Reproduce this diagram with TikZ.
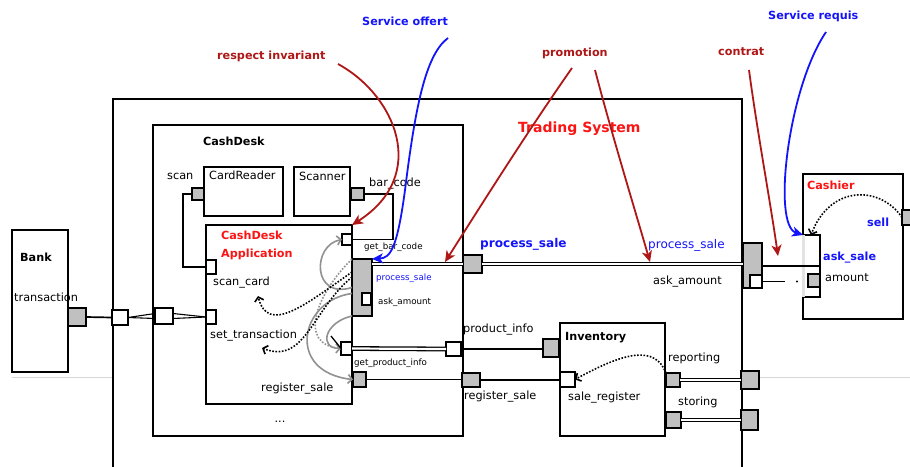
\documentclass[tikz,border=0pt]{standalone}
\usepackage{fontspec}
\setmainfont{DejaVu Sans}
\usetikzlibrary{arrows.meta,calc}
\definecolor{annred}{RGB}{175,22,22}
\definecolor{annblue}{RGB}{20,20,250}
\definecolor{titred}{RGB}{250,20,20}
\definecolor{portgray}{RGB}{192,192,192}
\definecolor{curvegray}{RGB}{145,145,145}
\definecolor{sepgray}{RGB}{215,215,215}
\begin{document}
\begin{tikzpicture}[x=1pt,y=-1pt,
  bx/.style={draw, line width=1.9pt, fill=white, inner sep=0pt, outer sep=0pt, anchor=north west},
  gp/.style={bx, fill=portgray},
  wp/.style={bx, fill=white},
  wire/.style={line width=1.7pt},
  thinwire/.style={line width=1.1pt},
  dbl/.style={line width=1.3pt, double=white, double distance=2.2pt},
  lbl/.style={inner sep=0pt, anchor=west, text height=0.7em, text depth=0.18em, font=\fontsize{11.3}{13}\selectfont},
  slbl/.style={lbl, font=\fontsize{8.7}{10}\selectfont},
  blbl/.style={lbl, font=\bfseries\fontsize{11.2}{13}\selectfont},
  tlbl/.style={lbl, font=\bfseries\fontsize{14}{16}\selectfont},
  gcurve/.style={curvegray, line width=1.6pt, -{Straight Barb[length=4pt,width=9pt]}},
  gdot/.style={curvegray, line width=1.6pt, dash pattern=on 1.6pt off 1.6pt},
  bdot/.style={black, line width=1.6pt, dash pattern=on 1.6pt off 1.6pt, -{Straight Barb[length=4pt,width=9pt]}},
  redarr/.style={annred, line width=1.8pt, -{Stealth[length=11pt,width=10pt,inset=3pt]}},
  bluearr/.style={annblue, line width=1.8pt, -{Stealth[length=11pt,width=10pt,inset=3pt]}}
]
\useasboundingbox (0,0) rectangle (910,466);
\clip (0,0) rectangle (910,466);
\fill[white] (0,0) rectangle (910,466);

% separator line in the background
\coordinate (sepA) at (12,377);
\coordinate (sepB) at (910,377);
\draw[sepgray, line width=0.8pt] (sepA) -- (sepB);

% boxes
\node[bx, minimum width=629, minimum height=420] (ts) at (113,99) {};
\node[bx, minimum width=56, minimum height=142] (bank) at (12,230) {};
\node[bx, minimum width=310, minimum height=311] (cd) at (153,125) {};
\node[bx, minimum width=79, minimum height=49] (cr) at (204,167) {};
\node[bx, minimum width=56, minimum height=49] (sc) at (294,167) {};
\node[bx, minimum width=146, minimum height=179] (cda) at (206,225) {};
\node[bx, minimum width=105, minimum height=113] (inv) at (560,323) {};
\node[bx, minimum width=100, minimum height=145] (cash) at (803,174) {};

% ask_sale port of Cashier (left side light)
\node[inner sep=0pt, outer sep=0pt, anchor=north west, fill=white, minimum width=17, minimum height=62] (askSaleP) at (803,235) {};
\draw[line width=1.9pt] (askSaleP.north west) -- (askSaleP.north east) -- (askSaleP.south east) -- (askSaleP.south west);
\draw[gray!22, line width=3pt] (askSaleP.north west) -- (askSaleP.south west);

% ports on the Trading System / Cashier side
\node[gp, minimum width=19, minimum height=45] (tsCashP) at (743,243) {};
\node[wp, minimum width=12, minimum height=13] (tsAmtP) at (750,275) {};
\node[gp, minimum width=12, minimum height=13] (amountP) at (808,274) {};
\draw[wire] (tsCashP.east |- askSaleP.center) -- (askSaleP.east);
\coordinate (amEnd) at (785,281.5);
\coordinate (amDot) at (797,281.5);
\draw[wire] (tsAmtP.east) -- (amEnd);
\fill (amDot) circle (1.1pt);

% other ports
\node[gp, minimum width=12, minimum height=12] (scanP) at (192,188) {};
\node[gp, minimum width=13, minimum height=12] (barP) at (351,188) {};
\node[wp, minimum width=10, minimum height=14] (scanCardP) at (206,260) {};
\node[wp, minimum width=10, minimum height=14] (setTrP) at (206,310) {};
\node[wp, minimum width=10, minimum height=11] (getBarP) at (342,234) {};
\node[wp, minimum width=11, minimum height=13] (getProdP) at (341,342) {};
\node[gp, minimum width=13, minimum height=15] (regSaleP) at (353,372) {};
\node[gp, minimum width=19, minimum height=18] (cdProcP) at (463,255) {};
\node[wp, minimum width=15, minimum height=14] (cdProdP) at (446,342) {};
\node[gp, minimum width=18, minimum height=14] (cdRegP) at (462,373) {};
\node[wp, minimum width=18, minimum height=16] (cdTrP) at (155,308) {};
\node[gp, minimum width=18, minimum height=18] (tsRepP) at (741,371) {};
\node[gp, minimum width=17, minimum height=20] (tsStoP) at (741,410) {};
\node[wp, minimum width=16, minimum height=15] (tsTrP) at (112,310) {};
\node[gp, minimum width=18, minimum height=18] (bankP) at (68,308) {};
\node[gp, minimum width=16, minimum height=18] (invProdP) at (543,339) {};
\node[wp, minimum width=15, minimum height=15] (saleRegP) at (560,372) {};
\node[gp, minimum width=14, minimum height=14] (repP) at (666,373) {};
\node[gp, minimum width=15, minimum height=16] (stoP) at (666,412) {};
\node[gp, minimum width=12, minimum height=15] (sellP) at (902,210) {};

\draw[wire] (bankP.east) -- (tsTrP.west);
\draw[thinwire] (tsTrP.east) -- ([yshift=2.5pt]cdTrP.west);
\draw[thinwire] (tsTrP.east) -- ([yshift=-2.5pt]cdTrP.west);
\draw[thinwire] ([yshift=2.5pt]cdTrP.east) -- (setTrP.west);
\draw[thinwire] ([yshift=-2.5pt]cdTrP.east) -- (setTrP.west);
\draw[wire] (scanP.west) -- ++(-9,0) |- (scanCardP.west);
\coordinate (bb) at (393,239.5);
\draw[wire] (barP.east) -| (bb) -- (getBarP.east);

\node[gp, minimum width=20, minimum height=57] (procP) at (352,259) {};
\node[wp, minimum width=9, minimum height=12] (askAmtP) at (362,293) {};

\draw[dbl] (procP.east |- cdProcP.west) -- (cdProcP.west);
\draw[dbl] (cdProcP.east) -- (cdProcP.east -| tsCashP.west);
\draw[dbl] (getProdP.east) -- (cdProdP.west);
\draw[wire] (cdProdP.east) -- (cdProdP.east -| invProdP.west);
\draw[wire] (regSaleP.east) -- (regSaleP.east -| cdRegP.west);
\draw[wire] (cdRegP.east) -- (cdRegP.east -| saleRegP.west);
\draw[dbl] (repP.east) -- (repP.east -| tsRepP.west);
\draw[dbl] (stoP.east) -- (stoP.east -| tsStoP.west);

% internal calls in CashDesk Application
\draw[gdot] (procP.north west) .. controls (318,292) and (295,345) .. (getProdP.west);
\draw[gcurve] (procP.west) .. controls (312,300) and (312,245) .. (getBarP.west);
\draw[gcurve] (procP.south west) .. controls (325,322) and (318,348) .. (getProdP.west);
\draw[gcurve] ([yshift=-6pt]procP.west) .. controls (300,300) and (285,372) .. (regSaleP.west);
\coordinate (scTip) at (258,296);
\coordinate (stTip) at (262,348);
\draw[bdot] ([yshift=-13pt]procP.north west) .. controls (305,305) and (268,335) .. (scTip);
\draw[bdot] ([yshift=-18pt]procP.north west) .. controls (312,310) and (305,365) .. (stTip);
\coordinate (tick) at (331,336);
\draw[line width=1.3pt] (tick) -- (getProdP.west);

% dotted delegations
\draw[bdot] (sellP.west) .. controls (880,185) and (830,185) .. ([xshift=8pt]askSaleP.north west);
\draw[bdot] (repP.north west) .. controls (655,345) and (625,352) .. (saleRegP.east);

% labels
\node[blbl, annred] (tRI) at (217,57) {respect invariant};
\node[blbl, annblue] (tSO) at (362,23) {Service offert};
\node[blbl, annred] (tPR) at (542,54) {promotion};
\node[blbl, annred] (tCO) at (718,53) {contrat};
\node[blbl, annblue] (tSR) at (768,17) {Service requis};
\node[tlbl, titred] (tTS) at (518,130) {Trading System};
\node[blbl] (tCD) at (203,143) {CashDesk};
\node[lbl] (tCR) at (209,177) {CardReader};
\node[lbl] (tSC) at (299,178) {Scanner};
\node[lbl] (tscan) at (167,177) {scan};
\node[lbl] (tbar) at (369,184) {bar\_code};
\node[blbl, titred] (tCDA1) at (221,237) {CashDesk};
\node[blbl, titred] (tCDA2) at (221,255) {Application};
\node[slbl] (tgbc) at (364,247) {get\_bar\_code};
\node[slbl, annblue] (tps1) at (376,278) {process\_sale};
\node[slbl] (taa1) at (378,302) {ask\_amount};
\node[lbl] (tsc) at (213,283) {scan\_card};
\node[lbl] (tst) at (210,336) {set\_transaction};
\node[slbl] (tgpi) at (354,363) {get\_product\_info};
\node[lbl] (trs1) at (261,389) {register\_sale};
\node[lbl, anchor=center] (tdots) at (280,420) {...};
\node[blbl, annblue, font=\bfseries\fontsize{12.1}{14}\selectfont] (tps2) at (480,245) {process\_sale};
\node[lbl, annblue, font=\fontsize{12}{14}\selectfont] (tps3) at (648,246) {process\_sale};
\node[lbl] (taa2) at (653,282) {ask\_amount};
\node[lbl] (tpi) at (463,330) {product\_info};
\node[lbl] (trs2) at (464,397) {register\_sale};
\node[blbl] (tinv) at (565,338) {Inventory};
\node[lbl] (tsr) at (568,398) {sale\_register};
\node[lbl] (trep) at (668,359) {reporting};
\node[lbl] (tsto) at (678,403) {storing};
\node[blbl] (tbank) at (20,259) {Bank};
\node[lbl] (ttr) at (14,299) {transaction};
\node[blbl, titred] (tcash) at (807,187) {Cashier};
\node[blbl, annblue] (tsell) at (867,224) {sell};
\node[blbl, annblue] (task) at (823,258) {ask\_sale};
\node[lbl] (tamt) at (825,279) {amount};

% annotation arrows
\coordinate (riS) at (338,64);
\draw[redarr] (riS) .. controls (395,95) and (430,175) .. (cda.north east);
\coordinate (soS) at (448,38);
\draw[bluearr] (soS) .. controls (425,55) and (415,110) .. (405,190) .. controls (397,250) and (390,258) .. (procP.north east);
\coordinate (prS1) at (572,68);
\coordinate (prT1) at (445,262);
\draw[redarr] (prS1) .. controls (525,135) and (475,215) .. (prT1);
\coordinate (prS2) at (595,70);
\coordinate (prT2) at (650,262);
\draw[redarr] (prS2) .. controls (612,135) and (635,210) .. (prT2);
\coordinate (coS) at (749,70);
\coordinate (coT) at (778,256);
\draw[redarr] (coS) .. controls (757,130) and (770,200) .. (coT);
\coordinate (srS) at (826,32);
\draw[bluearr] (srS) .. controls (788,88) and (772,225) .. (askSaleP.north west);
\end{tikzpicture}
\end{document}
